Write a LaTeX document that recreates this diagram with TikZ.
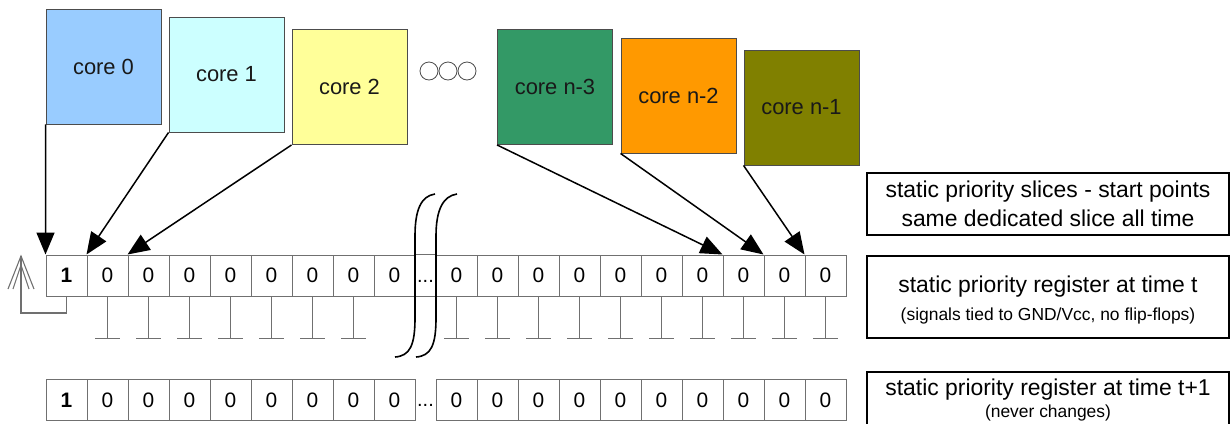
\documentclass[tikz,border=0pt]{standalone}
\usepackage{fontspec}
\setmainfont{Liberation Sans}
\usetikzlibrary{arrows.meta}
\definecolor{coreA}{HTML}{99CCFF}
\definecolor{coreB}{HTML}{CCFFFF}
\definecolor{coreC}{HTML}{FFFF99}
\definecolor{coreX}{HTML}{339966}
\definecolor{coreY}{HTML}{FF9900}
\definecolor{coreZ}{HTML}{808000}
\definecolor{wire}{HTML}{707070}
\begin{document}
\begin{tikzpicture}[x=1bp,y=-1bp,
  core/.style={draw=black!70,line width=0.9bp,minimum width=115bp,minimum height=115bp,
    inner sep=0pt,font=\fontsize{22}{24}\selectfont,text=black!90},
  cell/.style={draw=wire,line width=1bp,minimum width=41bp,minimum height=41bp,
    inner sep=0pt,font=\fontsize{21}{23}\selectfont},
  conn/.style={draw=black,line width=1.5bp,-{Triangle[length=22bp,width=18bp]}},
  tie/.style={draw=wire,line width=1.1bp},
  note/.style={draw=black,line width=1.4bp,minimum width=362bp,inner sep=0pt},
  big/.style={font=\fontsize{23}{26}\selectfont,inner sep=0pt},
  small/.style={font=\fontsize{17.5}{20}\selectfont,inner sep=0pt},
  dotsl/.style={font=\fontsize{20}{22}\selectfont,inner sep=0pt,anchor=base},
  brk/.style={draw=black,line width=1.6bp}]
\useasboundingbox (0,0) rectangle (1232,423);

% processor cores
\node[core,fill=coreA] (c0) at (103.5,66.5) {core 0};
\node[core,fill=coreB] (c1) at (226.5,74.5) {core 1};
\node[core,fill=coreC] (c2) at (349.5,87) {core 2};
\node[core,fill=coreX] (c3) at (555,87) {core n-3};
\node[core,fill=coreY] (c4) at (678.5,95.5) {core n-2};
\node[core,fill=coreZ] (c5) at (801.5,107.5) {core n-1};

% ellipsis circles between the core groups
\foreach \k/\cx in {1/429,2/448,3/467}
  \node[draw=black!70,line width=0.8bp,circle,minimum size=18bp,inner sep=0pt] (o\k) at (\cx,71) {};

% register at time t
\node[cell] (ra1) at (66.5,275.5) {\textbf{1}};
\foreach \i in {2,...,9}
  \node[cell] (ra\i) at ({46+41*(\i-1)+20.5},275.5) {0};
\foreach \j in {1,...,10}
  \node[cell] (rb\j) at ({436+41*(\j-1)+20.5},275.5) {0};
\draw[tie,line width=1bp] (ra9.north east) -- (rb1.north west);
\draw[tie,line width=1bp] (ra9.south east) -- (rb1.south west);
\node[dotsl] (gapa) at (425.5,282) {...};

% register at time t+1
\node[cell] (sa1) at (66.5,400) {\textbf{1}};
\foreach \i in {2,...,9}
  \node[cell] (sa\i) at ({46+41*(\i-1)+20.5},400) {0};
\foreach \j in {1,...,10}
  \node[cell] (sb\j) at ({436+41*(\j-1)+20.5},400) {0};
\node[dotsl] (gapb) at (425.5,406) {...};

% signals tied to fixed levels
\foreach \i in {2,...,8}
  \draw[tie] (ra\i.south) -- ++(0,42) ++(-12.5,0) -- ++(25,0);
\foreach \j in {1,...,10}
  \draw[tie] (rb\j.south) -- ++(0,42) ++(-12.5,0) -- ++(25,0);

% feedback of the first slice
\coordinate (fb) at (21,256);
\draw[tie] (ra1.south) -- ++(0,16.5) -| (fb);
\draw[tie] (8,289) -- (fb) -- (34,289);
\draw[tie] (13,289) -- (21,265) -- (29,289);

% break marks
\draw[brk] (435,194) .. controls (421,196) and (415,210) .. (415,236) -- (415,318)
  .. controls (415,345) and (410,356) .. (395,357);
\draw[brk] (457,194) .. controls (443,196) and (436,210) .. (436,236) -- (436,318)
  .. controls (436,345) and (431,356) .. (416,357);

% slice start points
\draw[conn] (c0.south west) -- (ra1.north west);
\draw[conn] (c1.south west) -- (ra2.north west);
\draw[conn] (c2.south west) -- (ra3.north west);
\draw[conn] (c3.south west) -- (rb8.north west);
\draw[conn] (c4.south west) -- (rb9.north west);
\draw[conn] (c5.south west) -- (rb10.north west);

% legend boxes
\node[note,minimum height=62bp] (n1) at (1048,204) {};
\node[big] (n1a) at (1048,192) {static priority slices - start points};
\node[big] (n1b) at (1048,218) {same dedicated slice all time};
\node[note,minimum height=82bp] (n2) at (1048,297) {};
\node[big] (n2a) at (1048,287) {static priority register at time t};
\node[small] (n2b) at (1048,316) {(signals tied to GND/Vcc, no flip-flops)};
\node[note,minimum height=70bp] (n3) at (1048,407) {};
\node[big] (n3a) at (1048,390) {static priority register at time t+1};
\node[small] (n3b) at (1048,413) {(never changes)};
\end{tikzpicture}
\end{document}
